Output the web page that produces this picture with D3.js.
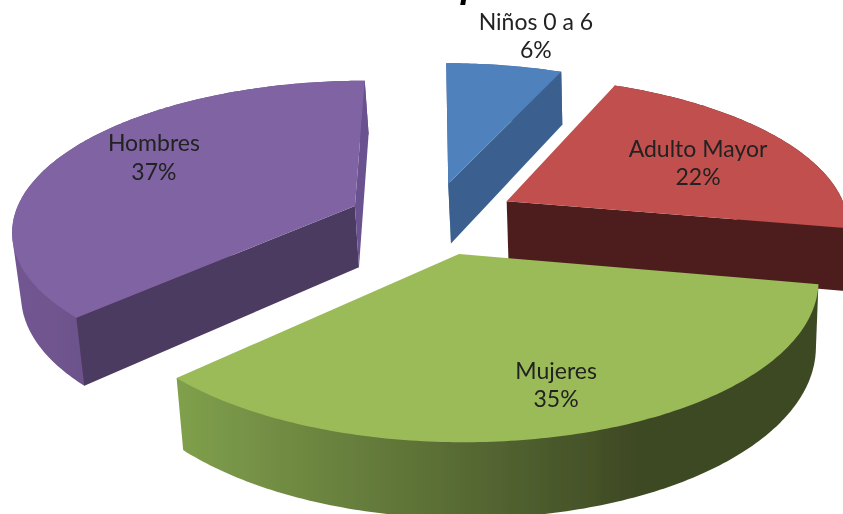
<!DOCTYPE html>
<html><head><meta charset="utf-8">
<script src="https://cdn.jsdelivr.net/npm/d3@7/dist/d3.min.js"></script>
<style>html,body{margin:0;padding:0;background:#fff;overflow:hidden}svg{display:block}</style>
</head><body><svg id="c" width="843" height="514"></svg>
<script>
const categories = ["Niños 0 a 6","Adulto Mayor","Mujeres","Hombres"];
const values = [6.45,21.5,34.8,37.25];
const topColors = ["#4f81bd","#c0504d","#9bbb59","#8064a2"];
const startWallColors = ["#3a618f",null,null,"#4c3a61"];
const endWallColors = ["#3a618f","#4d1f1f",null,"#6b5190"];
const rimStops = [["#3a618f","#3a618f"],["#4d1f1f","#4d1f1f"],["#80a04c","#3e4924"],["#725692","#5f4a7c"]];
// label anchors in the chart's normalised plane
const labelU = [0.298,0.772,0.357,-0.819];
const labelV = [1.23,0.372,-1.128,0.412];
const nudgeX = [-2,0,0,-3];
const nudgeY = [0,0,0,2];

const svg = d3.select("#c");
const defs = svg.append("defs");
const filter = defs.append("filter").attr("id","soft");
filter.append("feGaussianBlur").attr("stdDeviation",0.55);
const root = svg.append("g").attr("filter","url(#soft)");
const x = d3.scaleLinear().domain([-1,1]).range([434-342,434+342]);
const y = d3.scaleLinear().domain([-1,1]).range([218+148,218-148]);
const persp = 0.15, explode = 0.245, depth = 62, vanishX = 636, shrink = 0.9857;

const pie = d3.pie().sort(null).value(d=>d);
const arcs = pie(values);
const total = d3.sum(values);
const line = d3.line();

function project(u,v,bottom,i){
  const w = 1+persp*v;
  let px = x(u/w)+nudgeX[i], py = y(v/w)+nudgeY[i];
  if(bottom){ px = vanishX+(px-vanishX)*shrink; py += depth/w; }
  return [px,py];
}
function geometry(a,i){
  const mid=(a.startAngle+a.endAngle)/2;
  const ox=explode*Math.sin(mid), oy=explode*Math.cos(mid);
  const n=Math.max(2,Math.ceil((a.endAngle-a.startAngle)/0.015));
  const angles=d3.range(n+1).map(k=>a.startAngle+(a.endAngle-a.startAngle)*k/n);
  const pt=(t,b)=>project(ox+Math.sin(t),oy+Math.cos(t),b,i);
  return {
    apexT:project(ox,oy,false,i),apexB:project(ox,oy,true,i),
    top:angles.map(t=>pt(t,false)),
    bot:angles.map(t=>pt(t,true))
  };
}
const order=[3,0,1,2];
order.forEach(i=>{
  const g=geometry(arcs[i],i);
  const id="rim"+i;
  const xs=g.top.map(p=>p[0]);
  const x0=d3.min(xs), x1=d3.max(xs);
  const grad=defs.append("linearGradient").attr("id",id).attr("gradientUnits","userSpaceOnUse")
    .attr("x1",x0).attr("x2",x0+(x1-x0)*0.72).attr("y1",0).attr("y2",0);
  grad.append("stop").attr("offset",0).attr("stop-color",rimStops[i][0]);
  grad.append("stop").attr("offset",1).attr("stop-color",rimStops[i][1]);
  const s=root.append("g");
  s.append("path").attr("d",line(d3.polygonHull(g.top.concat(g.bot)))+"Z").attr("fill",`url(#${id})`);
  const last=g.top.length-1;
  if(startWallColors[i]) s.append("path").attr("d",line([g.apexT,g.top[0],g.bot[0],g.apexB])+"Z").attr("fill",startWallColors[i]);
  if(endWallColors[i]) s.append("path").attr("d",line([g.apexT,g.top[last],g.bot[last],g.apexB])+"Z").attr("fill",endWallColors[i]);
  s.append("path").attr("d",line([g.apexT].concat(g.top))+"Z").attr("fill",topColors[i]);
});
// labels
categories.forEach((c,i)=>{
  const t=root.append("text").attr("x",x(labelU[i])).attr("y",y(labelV[i]))
   .attr("text-anchor","middle").attr("font-family","Lato, 'Open Sans', sans-serif")
   .attr("font-size",23).attr("fill","#222");
  t.append("tspan").attr("x",x(labelU[i])).attr("dy",-6).text(c);
  t.append("tspan").attr("x",x(labelU[i])).attr("dy",28.5).text(Math.round(values[i]/total*100)+"%");
});
// clipped title descender
root.append("text").attr("x",461).attr("y",-3.5)
  .attr("font-family","'Liberation Sans',sans-serif").attr("font-weight","bold").attr("font-style","italic")
  .attr("font-size",36).attr("fill","#000").text("p");
</script></body></html>
